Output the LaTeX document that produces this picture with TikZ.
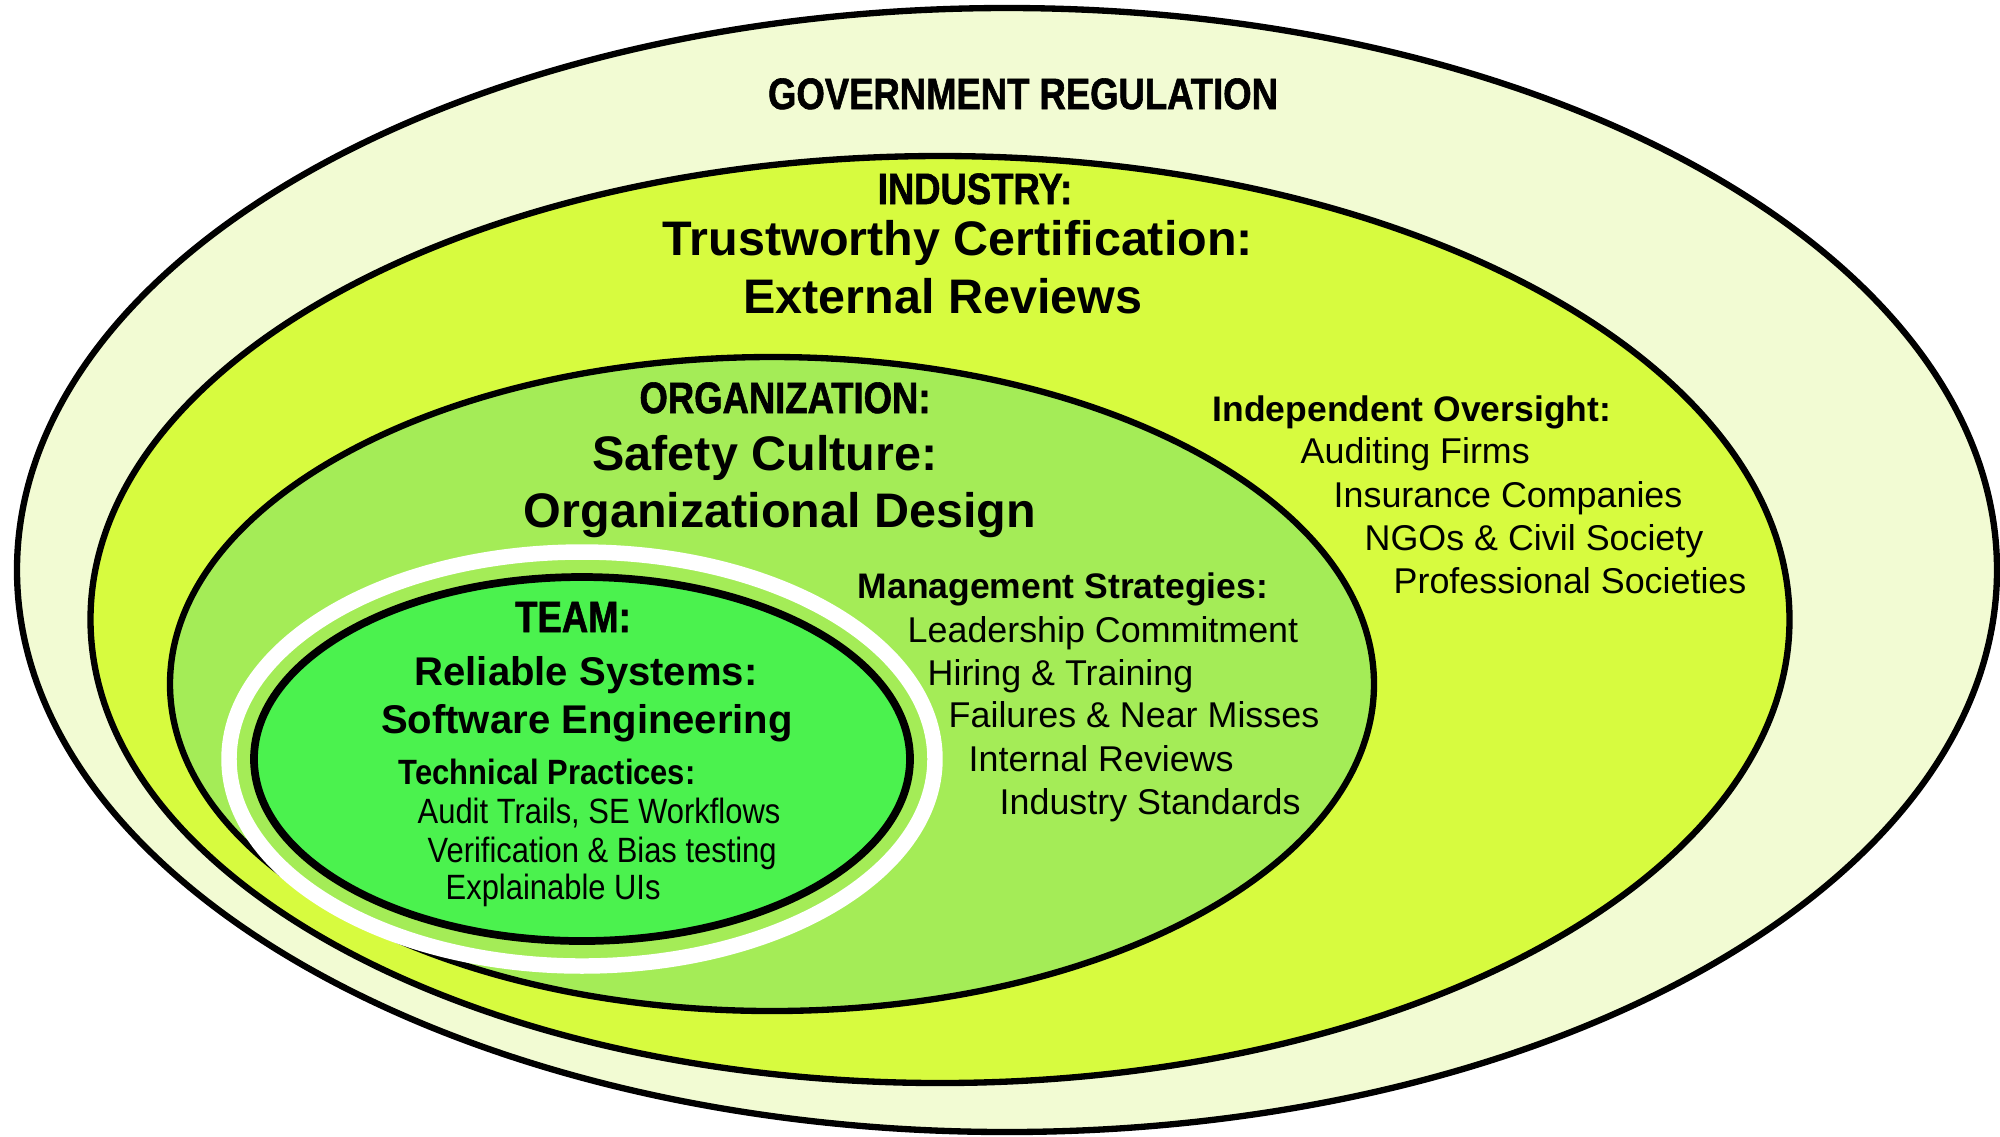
\documentclass[tikz,border=0pt]{standalone}
\usepackage{fontspec}
\setmainfont{Liberation Sans}
\newfontfamily\condfont[FakeStretch=0.83, FakeBold=1.3]{Liberation Sans}
\newfontfamily\narrowfont[FakeStretch=0.88]{Liberation Sans}
\usepackage{tikz}
\usetikzlibrary{shapes.geometric}
\usetikzlibrary{positioning}
\definecolor{govfill}{HTML}{F2FBD3}
\definecolor{indfill}{HTML}{D7FB3F}
\definecolor{orgfill}{HTML}{A4EC57}
\definecolor{teamfill}{HTML}{4BF24E}

\begin{document}
\begin{tikzpicture}[layer/.style={draw, ellipse, line width=1.8pt, inner sep=0pt},
				level/.style={font=\condfont\bfseries\fontsize{12.5}{14}\selectfont, anchor=base},
				title/.style={font=\bfseries\fontsize{13.8}{16}\selectfont, anchor=base},
				teamtitle/.style={font=\bfseries\fontsize{11.4}{13}\selectfont, anchor=base},
				listhead/.style={font=\bfseries\fontsize{10.1}{12}\selectfont, anchor=base west, inner sep=0pt},
				listitem/.style={font=\fontsize{10.2}{12}\selectfont, anchor=base west, inner sep=0pt},
				teamhead/.style={font=\narrowfont\bfseries\fontsize{10}{12}\selectfont, anchor=base west, inner sep=0pt},
				teamitem/.style={font=\narrowfont\fontsize{10}{12}\selectfont, anchor=base west, inner sep=0pt}]
				\useasboundingbox (0, 0) rectangle (20, -11.36);
				
				\node[layer, fill=govfill, minimum width=19.8cm, minimum height=11.24cm](gov) at (10.07, -5.70) {};
				\node[layer, fill=indfill, minimum width=16.99cm, minimum height=9.27cm](industry) at (9.40, -6.195) {};
				\node[layer, fill=orgfill, minimum width=12.04cm, minimum height=6.54cm](org) at (7.72, -6.84) {};
				\node[ellipse, draw=white, line width=4.4pt, inner sep=0pt, minimum width=7.06cm, minimum height=4.14cm](halo) at (5.82, -7.59) {};
				\node[layer, fill=teamfill, line width=2.2pt, minimum width=6.56cm, minimum height=3.64cm](team) at (5.82, -7.59) {};
				
				\node[level](govlabel) at (10.23, -1.09) {GOVERNMENT REGULATION};
				
				\node[level](indlabel) at (9.75, -2.04) {INDUSTRY:};
				\node[title](indtitle) at (9.58, -2.55) {Trustworthy Certification:};
				\node[title](indsub) at (9.43, -3.13) {External Reviews};
				
				\node[level](orglabel) at (7.85, -4.13) {ORGANIZATION:};
				\node[title](orgtitle) at (7.65, -4.70) {Safety Culture:};
				\node[title](orgsub) at (7.80, -5.27) {Organizational Design};
				
				\node[level](teamlabel) at (5.73, -6.32) {TEAM:};
				\node[teamtitle](teamtitle) at (5.86, -6.85) {Reliable Systems:};
				\node[teamtitle](teamsub) at (5.87, -7.33) {Software Engineering};
				
				\node[teamhead](techhead) at (3.98, -7.84) {Technical Practices:};
				\node[teamitem](tech1) at (4.17, -8.23) {Audit Trails, SE Workflows};
				\node[teamitem](tech2) at (4.27, -8.62) {Verification \& Bias testing};
				\node[teamitem](tech3) at (4.45, -8.99) {Explainable UIs};
				
				\node[listhead](mgmthead) at (8.57, -5.98) {Management Strategies:};
				\node[listitem](mgmt1) at (9.07, -6.42) {Leadership Commitment};
				\node[listitem](mgmt2) at (9.27, -6.85) {Hiring \& Training};
				\node[listitem](mgmt3) at (9.48, -7.27) {Failures \& Near Misses};
				\node[listitem](mgmt4) at (9.68, -7.71) {Internal Reviews};
				\node[listitem](mgmt5) at (9.99, -8.14) {Industry Standards};
				
				\node[listhead](overhead) at (12.12, -4.21) {Independent Oversight:};
				\node[listitem](over1) at (13.00, -4.63) {Auditing Firms};
				\node[listitem](over2) at (13.33, -5.07) {Insurance Companies};
				\node[listitem](over3) at (13.64, -5.50) {NGOs \& Civil Society};
				\node[listitem](over4) at (13.93, -5.93) {Professional Societies};
			\end{tikzpicture}
\end{document}
